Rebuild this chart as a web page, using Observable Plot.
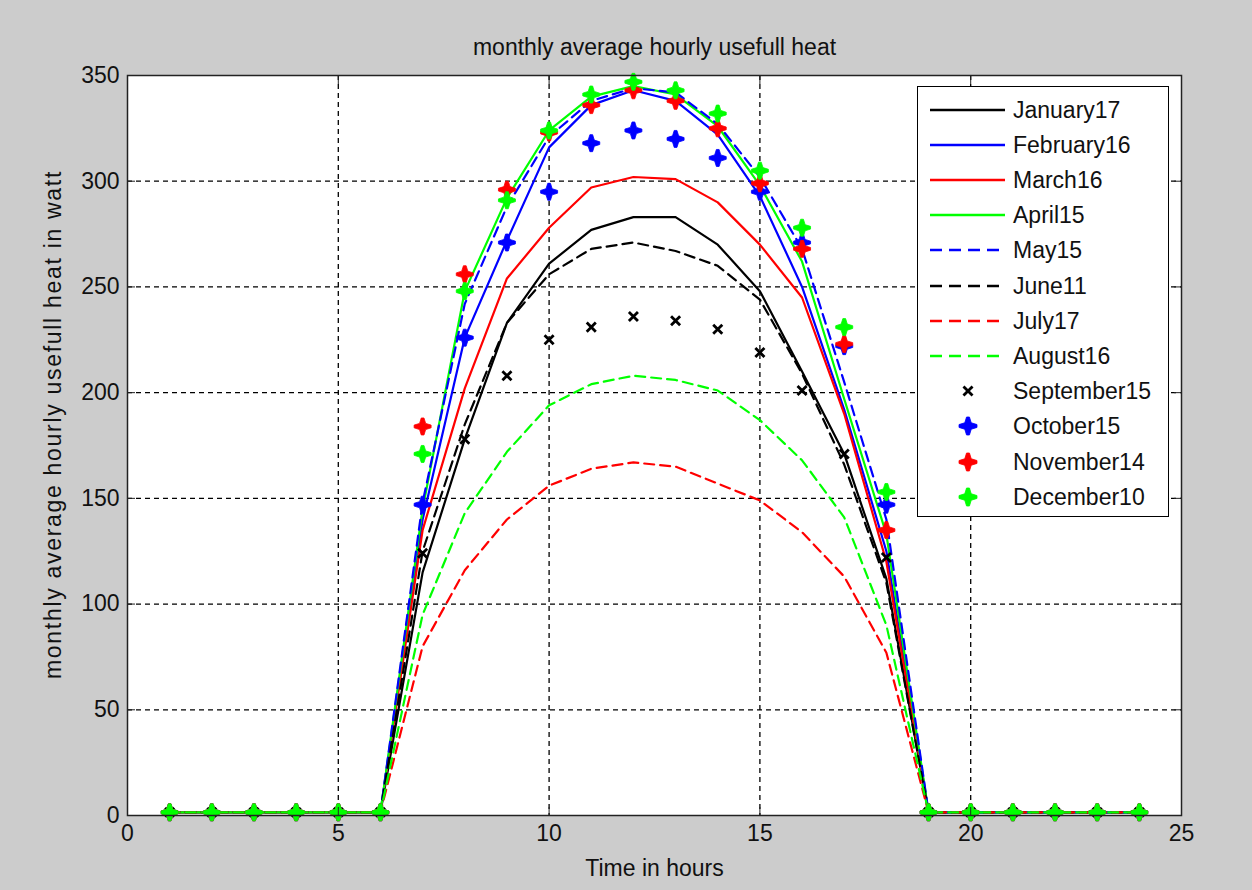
<!DOCTYPE html>
<html><head><meta charset="utf-8">
<script src="https://cdn.jsdelivr.net/npm/d3@7"></script>
<script src="https://cdn.jsdelivr.net/npm/@observablehq/plot@0.6"></script>
<style>
html,body{margin:0;padding:0;background:#cccccc;}
#wrap{position:relative;width:1252px;height:890px;overflow:hidden;background:#cccccc;font-family:"Liberation Sans",Arial,sans-serif;}
#legend{position:absolute;left:917px;top:86px;width:252px;height:431px;background:#fff;border:1.5px solid #000;box-sizing:border-box;}
.row{position:absolute;left:0;width:250px;height:30px;}
.row svg{position:absolute;left:0;top:0;}
.row span{position:absolute;left:95px;top:0;line-height:30px;font-size:23px;color:#111;white-space:nowrap;}
</style></head><body><div id="wrap"></div>
<script>
// ---- data ----
const hours = [1,2,3,4,5,6,7,8,9,10,11,12,13,14,15,16,17,18,19,20,21,22,23,24];
const xTicks = [0,5,10,15,20,25];
const yTicks = [0,50,100,150,200,250,300,350];

const january17  = [1.5,1.5,1.5,1.5,1.5,1.5,115,178,233,261,277,283,283,270,248,210,171,112,1.5,1.5,1.5,1.5,1.5,1.5];
const february16 = [1.5,1.5,1.5,1.5,1.5,1.5,140,226,272,316,336,343,338,322,293,250,192,125,1.5,1.5,1.5,1.5,1.5,1.5];
const march16    = [1.5,1.5,1.5,1.5,1.5,1.5,135,202,254,278,297,302,301,290,270,245,190,120,1.5,1.5,1.5,1.5,1.5,1.5];
const april15    = [1.5,1.5,1.5,1.5,1.5,1.5,145,248,292,324,340,345,341,326,298,262,197,133,1.5,1.5,1.5,1.5,1.5,1.5];
const may15      = [1.5,1.5,1.5,1.5,1.5,1.5,148,242,288,321,338,344,342,327,302,268,205,140,1.5,1.5,1.5,1.5,1.5,1.5];
const june11     = [1.5,1.5,1.5,1.5,1.5,1.5,125,185,233,256,268,271,267,260,244,209,166,110,1.5,1.5,1.5,1.5,1.5,1.5];
const july17     = [1.5,1.5,1.5,1.5,1.5,1.5,80,116,140,156,164,167,165,157,149,134,113,77,1.5,1.5,1.5,1.5,1.5,1.5];
const august16   = [1.5,1.5,1.5,1.5,1.5,1.5,95,143,172,194,204,208,206,201,187,168,141,90,1.5,1.5,1.5,1.5,1.5,1.5];
const september15= [1.5,1.5,1.5,1.5,1.5,1.5,124,178,208,225,231,236,234,230,219,201,171,122,1.5,1.5,1.5,1.5,1.5,1.5];
const october15  = [1.5,1.5,1.5,1.5,1.5,1.5,147,226,271,295,318,324,320,311,295,271,222,147,1.5,1.5,1.5,1.5,1.5,1.5];
const november14 = [1.5,1.5,1.5,1.5,1.5,1.5,184,256,296,323,336,343,338,325,299,268,223,135,1.5,1.5,1.5,1.5,1.5,1.5];
const december10 = [1.5,1.5,1.5,1.5,1.5,1.5,171,248,291,324,341,347,343,332,305,278,231,153,1.5,1.5,1.5,1.5,1.5,1.5];

const titleText = "monthly average hourly usefull heat";
const xLabel = "Time in hours";
const yLabel = "monthly average hourly usefull heat in watt";

// ---- series styles ----
const series = [
  {name:"January17",  values:january17,  color:"#000000", kind:"line", dash:null},
  {name:"February16", values:february16, color:"#0000ff", kind:"line", dash:null},
  {name:"March16",    values:march16,    color:"#ff0000", kind:"line", dash:null},
  {name:"April15",    values:april15,    color:"#00ff00", kind:"line", dash:null},
  {name:"May15",      values:may15,      color:"#0000ff", kind:"line", dash:"10,6"},
  {name:"June11",     values:june11,     color:"#000000", kind:"line", dash:"10,6"},
  {name:"July17",     values:july17,     color:"#ff0000", kind:"line", dash:"10,6"},
  {name:"August16",   values:august16,   color:"#00ff00", kind:"line", dash:"10,6"},
  {name:"September15",values:september15,color:"#000000", kind:"x"},
  {name:"October15",  values:october15,  color:"#0000ff", kind:"star"},
  {name:"November14", values:november14, color:"#ff0000", kind:"star"},
  {name:"December10", values:december10, color:"#00ff00", kind:"star"}
];

const star4 = {
  draw(ctx, size) {
    const r = Math.sqrt(size / Math.PI), t = 0.16 * r, c = 0.36 * r;
    ctx.moveTo(-t, -r); ctx.lineTo(t, -r); ctx.lineTo(c, -c); ctx.lineTo(r, -t);
    ctx.lineTo(r, t); ctx.lineTo(c, c); ctx.lineTo(t, r); ctx.lineTo(-t, r);
    ctx.lineTo(-c, c); ctx.lineTo(-r, t); ctx.lineTo(-r, -t); ctx.lineTo(-c, -c);
    ctx.closePath();
  }
};

const seriesMarks = series.map(s => {
  const data = hours.map((h, i) => ({hour: h, v: s.values[i]}));
  if (s.kind === "line") {
    return Plot.line(data, {x: "hour", y: "v", stroke: s.color, strokeWidth: 2.2,
      strokeDasharray: s.dash || undefined});
  } else if (s.kind === "x") {
    return Plot.dot(data, {x: "hour", y: "v", symbol: "times", r: 4.2, stroke: s.color, strokeWidth: 2.8});
  } else {
    return Plot.dot(data, {x: "hour", y: "v", symbol: star4, r: 8.5, fill: s.color, stroke: s.color, strokeWidth: 0.8});
  }
});

const gridStyle = {stroke: "#000", strokeOpacity: 1, strokeWidth: 1.3, strokeDasharray: "5,4"};

const chart = Plot.plot({
  width: 1252, height: 890,
  marginLeft: 127, marginRight: 71, marginTop: 75, marginBottom: 75,
  style: {background: "#cccccc", fontFamily: "Liberation Sans, Arial, sans-serif", fontSize: "23px", color: "#111"},
  x: {domain: [0, 25], ticks: xTicks, label: null},
  y: {domain: [0, 350], ticks: yTicks, label: null},
  marks: [
    Plot.frame({fill: "white", stroke: null}),
    Plot.gridX(xTicks.slice(1, -1), gridStyle),
    Plot.gridY(yTicks.slice(1, -1), gridStyle),
    ...seriesMarks,
    Plot.frame({stroke: "#222", strokeWidth: 1.5}),
    Plot.axisX(xTicks, {anchor: "bottom", tickSize: 0, tickPadding: 9, label: null, fill: "#111"}),
    Plot.axisX(xTicks, {anchor: "bottom", tickSize: 8, dy: -8, text: null, label: null, stroke: "#222"}),
    Plot.axisX(xTicks, {anchor: "top", tickSize: 8, dy: 8, text: null, label: null, stroke: "#222"}),
    Plot.axisY(yTicks, {anchor: "left", tickSize: 0, tickPadding: 8, label: null, fill: "#111"}),
    Plot.axisY(yTicks, {anchor: "left", tickSize: 8, dx: 8, text: null, label: null, stroke: "#222"}),
    Plot.axisY(yTicks, {anchor: "right", tickSize: 8, dx: -8, text: null, label: null, stroke: "#222"}),
    Plot.text([titleText], {frameAnchor: "top", lineAnchor: "middle", textAnchor: "middle", dy: -28, fontSize: 23, fill: "#111"}),
    Plot.text([xLabel], {frameAnchor: "bottom", lineAnchor: "middle", textAnchor: "middle", dy: 53, fontSize: 23, fill: "#111"}),
    Plot.text([yLabel], {frameAnchor: "left", lineAnchor: "middle", textAnchor: "middle", dx: -74, dy: -21, rotate: -90, fontSize: 23, fill: "#111"})
  ]
});

// widen the rotated axis label as in the reference
d3.select(chart).selectAll("text").filter(function() { return this.textContent === yLabel; })
  .style("letter-spacing", "1.7px");

const wrap = document.getElementById("wrap");
wrap.appendChild(chart);

// ---- legend ----
const legend = document.createElement("div");
legend.id = "legend";
series.forEach((s, i) => {
  const row = document.createElement("div");
  row.className = "row";
  row.style.top = (24 + 35.2 * i - 15 - 1.5) + "px";
  const svg = d3.create("svg").attr("width", 95).attr("height", 30);
  if (s.kind === "line") {
    svg.append("line").attr("x1", 12).attr("x2", 87).attr("y1", 15).attr("y2", 15)
      .attr("stroke", s.color).attr("stroke-width", 2.6)
      .attr("stroke-dasharray", s.dash ? "12,7" : null);
  } else if (s.kind === "x") {
    svg.append("path").attr("d", d3.symbol(d3.symbolTimes, 55)()).attr("transform", "translate(50,15)")
      .attr("fill", "none").attr("stroke", s.color).attr("stroke-width", 2.8);
  } else {
    svg.append("path").attr("d", d3.symbol(star4, Math.PI * 81)()).attr("transform", "translate(50,15)")
      .attr("fill", s.color).attr("stroke", s.color).attr("stroke-width", 0.8);
  }
  row.appendChild(svg.node());
  const span = document.createElement("span");
  span.textContent = s.name;
  row.appendChild(span);
  legend.appendChild(row);
});
wrap.appendChild(legend);
</script>
</body></html>
